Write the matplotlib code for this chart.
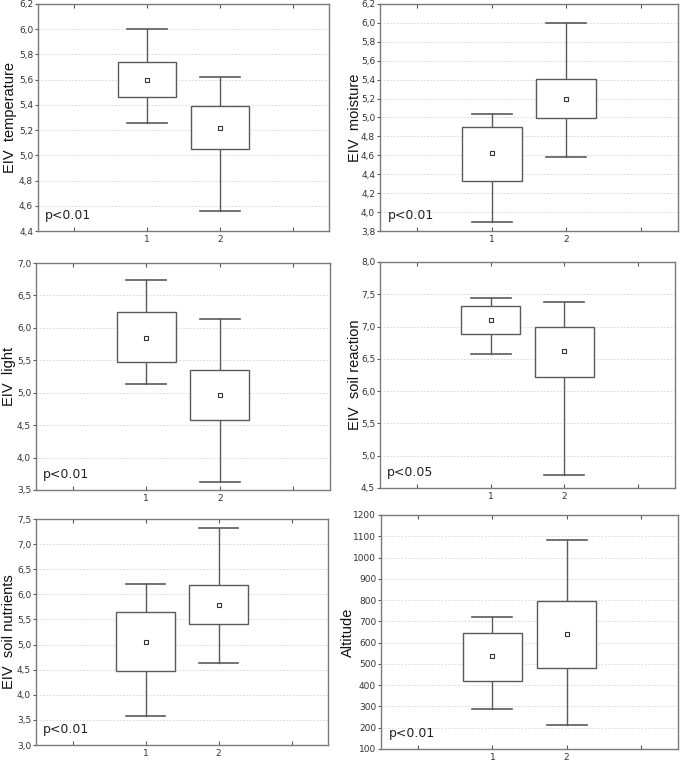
import matplotlib
matplotlib.use("Agg")
import matplotlib.pyplot as plt
from matplotlib import font_manager

groups = ["1", "2"]

labels = ["EIV  temperature", "EIV  moisture", "EIV  light",
          "EIV  soil reaction", "EIV  soil nutrients", "Altitude"]
pvals = ["p<0.01", "p<0.01", "p<0.01", "p<0.05", "p<0.01", "p<0.01"]

# per panel, per group: [whisker low, box low, mean, box high, whisker high]
temperature = [[5.26, 5.46, 5.60, 5.74, 6.00], [4.56, 5.05, 5.22, 5.39, 5.62]]
moisture = [[3.90, 4.33, 4.62, 4.90, 5.04], [4.58, 4.99, 5.20, 5.41, 6.00]]
light = [[5.13, 5.47, 5.85, 6.25, 6.74], [3.63, 4.58, 4.97, 5.35, 6.14]]
soil_reaction = [[6.58, 6.89, 7.10, 7.32, 7.44], [4.70, 6.22, 6.62, 7.00, 7.38]]
soil_nutrients = [[3.57, 4.48, 5.06, 5.65, 6.20], [4.63, 5.40, 5.79, 6.18, 7.33]]
altitude = [[290, 420, 535, 643, 722], [215, 483, 640, 798, 1082]]

panels = [temperature, moisture, light, soil_reaction, soil_nutrients, altitude]

yranges = [(4.4, 6.2, 0.2), (3.8, 6.2, 0.2), (3.5, 7.0, 0.5),
           (4.5, 8.0, 0.5), (3.0, 7.5, 0.5), (100, 1200, 100)]

# axes rectangles in pixels: left, top, right, bottom
W, H = 685, 763
rects_px = [(38, 4, 329, 231), (380, 4, 678, 231),
            (36, 263, 330, 490), (380, 262, 675, 488),
            (36, 519, 328, 745), (381, 515, 678, 749)]
label_x_px = [10, 355, 9, 355, 9, 348]

names = {f.name for f in font_manager.fontManager.ttflist}
if "Liberation Sans Narrow" in names:
    lab_family = ["Liberation Sans Narrow", "DejaVu Sans"]
    lab_size = 12.5
else:
    lab_family = ["Liberation Sans", "DejaVu Sans"]
    lab_size = 10.5

fig = plt.figure(figsize=(W / 100, H / 100), dpi=100)
fig.patch.set_facecolor("white")

edge = "#5a5a5a"
for i, (data, lab, pv, (y0, y1, st), r) in enumerate(
        zip(panels, labels, pvals, yranges, rects_px)):
    l, t, rr, b = r
    ax = fig.add_axes([l / W, 1 - b / H, (rr - l) / W, (b - t) / H])
    ax.set_xlim(-0.5, 3.5)
    ax.set_ylim(y0, y1)
    n = int(round((y1 - y0) / st))
    yt = [y0 + k * st for k in range(n + 1)]
    ax.set_yticks(yt)
    if i == 5:
        ax.set_yticklabels([f"{int(round(v))}" for v in yt])
    else:
        ax.set_yticklabels([f"{v:.1f}".replace(".", ",") for v in yt])
    ax.set_xticks([0, 1, 2, 3])
    ax.set_xticklabels(["", groups[0], groups[1], ""])
    ax.tick_params(axis="x", direction="in", top=True, length=3, color=edge,
                   labelsize=6.5, labelcolor="#333333", pad=3)
    ax.tick_params(axis="y", direction="out", length=2, color=edge,
                   labelsize=6.5, labelcolor="#333333", pad=1.5)
    for s in ax.spines.values():
        s.set_color("#7a7a7a")
        s.set_linewidth(1.0)
    ax.grid(axis="y", linestyle=(0, (2, 2)), color="#d4d4d4", linewidth=0.6)
    ax.set_axisbelow(True)

    for gx, vals in zip([1, 2], data):
        wl, bl, mn, bh, wh = vals
        bw = 0.4
        cw = 0.27
        ax.add_patch(plt.Rectangle((gx - bw, bl), 2 * bw, bh - bl,
                                   facecolor="white", edgecolor=edge,
                                   linewidth=1.0, zorder=3))
        ax.plot([gx, gx], [bh, wh], color=edge, lw=1.0, zorder=2)
        ax.plot([gx, gx], [wl, bl], color=edge, lw=1.0, zorder=2)
        ax.plot([gx - cw, gx + cw], [wh, wh], color=edge, lw=1.2, zorder=2)
        ax.plot([gx - cw, gx + cw], [wl, wl], color=edge, lw=1.2, zorder=2)
        ax.plot([gx], [mn], marker="s", markersize=2.8, markerfacecolor="white",
                markeredgecolor="#333333", markeredgewidth=0.8, zorder=4)

    ax.text(0.025, 0.04, pv, transform=ax.transAxes, fontsize=9,
            color="#222222", ha="left", va="bottom")
    fig.text(label_x_px[i] / W, 1 - ((t + b) / 2) / H, lab, rotation=90,
             ha="center", va="center", fontsize=lab_size, family=lab_family,
             color="#111111")

fig.savefig("out.png", dpi=100, facecolor="white")
